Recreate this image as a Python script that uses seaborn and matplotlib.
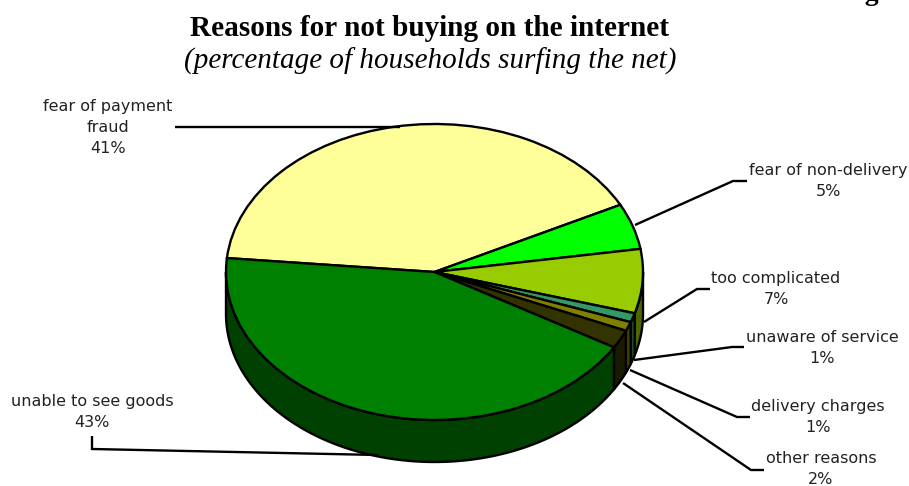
import numpy as np
import matplotlib
matplotlib.use("Agg")
import matplotlib.pyplot as plt
from matplotlib.transforms import Affine2D
import seaborn as sns

reasons = ["fear of payment\nfraud", "fear of non-delivery", "too complicated",
           "unaware of service", "delivery charges", "other reasons", "unable to see goods"]
shares = [41, 5, 7, 1, 1, 2, 43]
top_colors = ["#FFFF99", "#00FF00", "#99CC00", "#339966", "#808000", "#333300", "#008000"]
side_colors = ["#808050", "#008000", "#4D6600", "#1A4D33", "#404000", "#1A1A00", "#004000"]

label_centers = [(108, 127), (828, 181), (776, 289), (822, 348), (818, 417), (821, 469), (92, 412)]
leader_paths = [
    [(175, 127), (400, 127)],
    [(747, 181), (733, 181), (635, 225)],
    [(710, 289), (697, 289), (644, 322)],
    [(744, 347), (732, 347), (634, 360)],
    [(750, 417), (737, 417), (630, 370)],
    [(764, 470), (751, 470), (623, 383)],
    [(92, 436), (92, 449), (378, 455)],
]

START_ANGLE = 174.6
WIDTH, HEIGHT = 909, 486
CENTER_X, CENTER_Y = 434.5, 272
RADIUS_X, RADIUS_Y = 208.5, 148
DEPTH = 42 / RADIUS_Y
LINE = 1.7

sns.set_theme(style="white")
fig = plt.figure(figsize=(WIDTH / 100, HEIGHT / 100), dpi=100, facecolor="white")
ax = fig.add_axes([0, 0, 1, 1])
pixels = Affine2D().scale(1 / WIDTH, -1 / HEIGHT).translate(0, 1) + ax.transAxes

# Rim of the disc: only the part of each slice on the near half shows.
edges = START_ANGLE - np.cumsum([0] + shares) * 3.6
for i in range(len(shares)):
    hi, lo = edges[i], edges[i + 1]
    for turn in (0, 360):
        a = max(lo + turn, -180)
        b = min(hi + turn, 0)
        if a < b:
            t = np.radians(np.linspace(a, b, 120))
            xs = np.r_[np.cos(t), np.cos(t[::-1])]
            ys = np.r_[np.sin(t), np.sin(t[::-1]) - DEPTH]
            ax.fill(xs, ys, facecolor=side_colors[i], edgecolor="black",
                    linewidth=LINE, joinstyle="round", zorder=1)

# Top face of the disc, flattened by the free aspect ratio set below.
wedges, _ = ax.pie(shares, colors=top_colors, startangle=START_ANGLE, counterclock=False,
                   radius=1, wedgeprops=dict(edgecolor="black", linewidth=LINE, zorder=2))
ax.set_aspect("auto")
ax.set_xlim(-CENTER_X / RADIUS_X, (WIDTH - CENTER_X) / RADIUS_X)
ax.set_ylim((CENTER_Y - HEIGHT) / RADIUS_Y, CENTER_Y / RADIUS_Y)
ax.axis("off")

# Leader lines and slice labels.
for path, name, share, (lx, ly) in zip(leader_paths, reasons, shares, label_centers):
    px, py = zip(*path)
    ax.plot(px, py, color="black", lw=LINE, transform=pixels, zorder=3,
            solid_capstyle="butt", solid_joinstyle="miter", clip_on=False)
    ax.text(lx, ly, f"{name}\n{share}%", transform=pixels, ha="center", va="center",
            fontsize=11.5, color="#222222", family="DejaVu Sans", linespacing=1.5, zorder=4)

ax.text(430, 28, "Reasons for not buying on the internet", transform=pixels, ha="center",
        va="center", family="Liberation Serif", fontweight="bold", fontsize=21.1, color="black")
ax.text(430, 61, "(percentage of households surfing the net)", transform=pixels, ha="center",
        va="center", family="Liberation Serif", style="italic", fontsize=21, color="black")
ax.text(907, 0, "Figur", transform=pixels, ha="right", va="baseline",
        family="Liberation Serif", fontweight="bold", fontsize=20, color="black")

fig.savefig("out.png", dpi=100, facecolor="white")
